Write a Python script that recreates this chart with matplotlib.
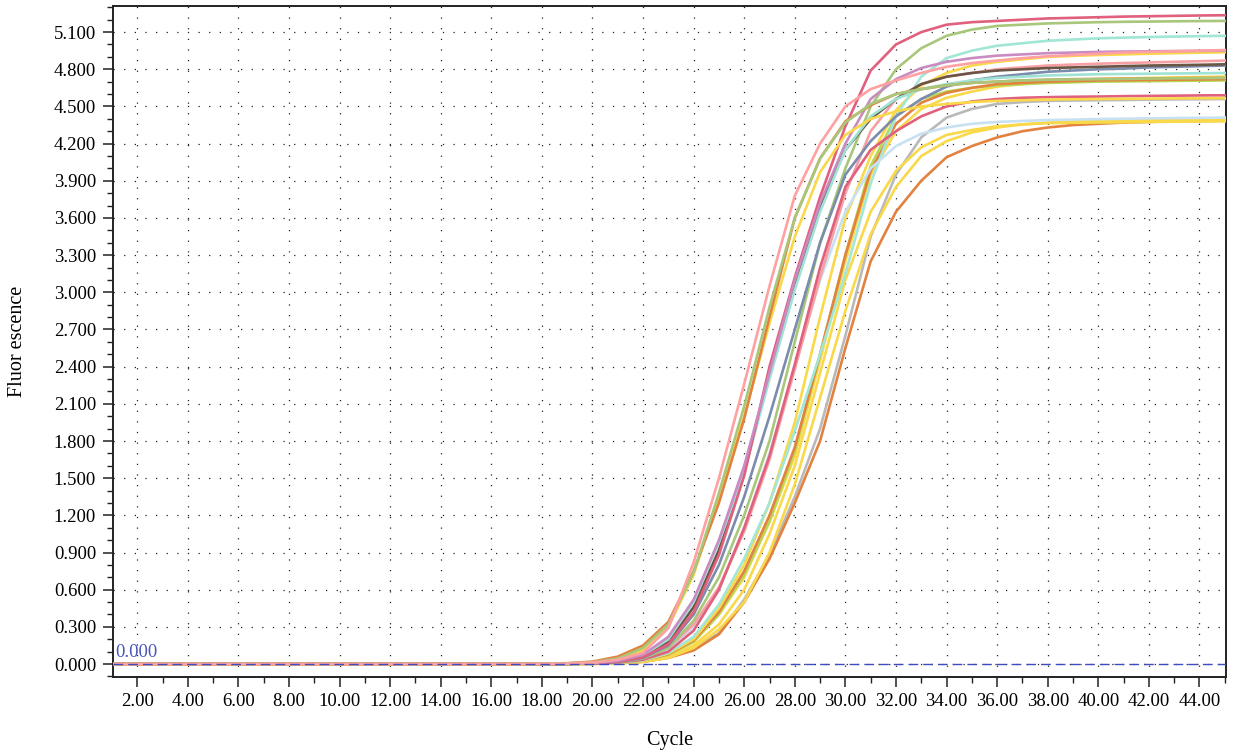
import matplotlib
matplotlib.use("Agg")
import matplotlib.pyplot as plt
from matplotlib.ticker import MultipleLocator, FormatStrFormatter

plt.rcParams['font.family'] = ['Liberation Serif', 'DejaVu Serif']

# cycles 1..45
cycles = list(range(1, 46))
# cycles 1..17: flat baseline
baseline = [0.0, 0.0, 0.0, 0.0, 0.0, 0.0, 0.0, 0.0, 0.0, 0.0, 0.0, 0.0, 0.0, 0.0, 0.0, 0.0, 0.0]

# values for cycles 18..45
pink = [0.002, 0.004, 0.012, 0.035, 0.09, 0.29, 0.82, 1.5, 2.26, 3.05, 3.78, 4.2, 4.5, 4.64, 4.71, 4.77, 4.82, 4.85, 4.87, 4.89, 4.905, 4.915, 4.925, 4.935, 4.94, 4.945, 4.95, 4.955]
olive_early = [0.002, 0.005, 0.014, 0.045, 0.13, 0.32, 0.74, 1.38, 2.08, 2.88, 3.6, 4.08, 4.37, 4.52, 4.6, 4.64, 4.67, 4.69, 4.7, 4.71, 4.715, 4.718, 4.72, 4.722, 4.725, 4.727, 4.728, 4.73]
orange_early = [0.003, 0.007, 0.02, 0.06, 0.15, 0.34, 0.75, 1.3, 1.98, 2.8, 3.6, 4.08, 4.38, 4.51, 4.6, 4.64, 4.67, 4.69, 4.7, 4.71, 4.715, 4.72, 4.722, 4.724, 4.726, 4.728, 4.729, 4.73]
yellow_c = [0.002, 0.004, 0.012, 0.04, 0.11, 0.3, 0.72, 1.35, 2.0, 2.75, 3.45, 3.97, 4.27, 4.4, 4.46, 4.5, 4.52, 4.535, 4.545, 4.55, 4.555, 4.558, 4.56, 4.562, 4.563, 4.565, 4.566, 4.567]
mauve = [0.001, 0.003, 0.008, 0.025, 0.075, 0.22, 0.52, 1.0, 1.6, 2.35, 3.1, 3.72, 4.2, 4.56, 4.72, 4.81, 4.86, 4.89, 4.91, 4.92, 4.93, 4.935, 4.94, 4.943, 4.945, 4.947, 4.948, 4.95]
crimson = [0.001, 0.002, 0.006, 0.018, 0.055, 0.16, 0.42, 0.88, 1.52, 2.4, 3.12, 3.77, 4.34, 4.79, 5.0, 5.1, 5.16, 5.18, 5.19, 5.2, 5.21, 5.215, 5.22, 5.225, 5.228, 5.231, 5.234, 5.236]
aqua_early = [0.001, 0.003, 0.008, 0.024, 0.07, 0.2, 0.5, 0.98, 1.55, 2.3, 3.02, 3.65, 4.15, 4.42, 4.56, 4.64, 4.68, 4.71, 4.73, 4.74, 4.75, 4.755, 4.76, 4.762, 4.764, 4.766, 4.768, 4.77]
brown = [0.001, 0.002, 0.006, 0.02, 0.06, 0.18, 0.46, 0.92, 1.55, 2.35, 3.07, 3.7, 4.15, 4.4, 4.56, 4.68, 4.74, 4.77, 4.79, 4.8, 4.81, 4.815, 4.82, 4.825, 4.83, 4.833, 4.836, 4.84]
slate = [0.001, 0.002, 0.006, 0.018, 0.05, 0.15, 0.4, 0.8, 1.35, 2.0, 2.7, 3.4, 3.95, 4.22, 4.42, 4.56, 4.66, 4.71, 4.74, 4.76, 4.78, 4.79, 4.8, 4.805, 4.815, 4.82, 4.825, 4.83]
olive = [0.001, 0.002, 0.005, 0.015, 0.045, 0.13, 0.35, 0.7, 1.2, 1.8, 2.6, 3.4, 4.0, 4.5, 4.8, 4.97, 5.07, 5.12, 5.15, 5.16, 5.17, 5.175, 5.18, 5.183, 5.185, 5.187, 5.189, 5.19]
crimson2 = [0.001, 0.002, 0.004, 0.012, 0.035, 0.1, 0.27, 0.6, 1.1, 1.68, 2.42, 3.2, 3.85, 4.15, 4.3, 4.42, 4.5, 4.54, 4.56, 4.57, 4.575, 4.578, 4.58, 4.583, 4.585, 4.587, 4.589, 4.59]
salmon = [0.001, 0.002, 0.005, 0.015, 0.045, 0.13, 0.32, 0.62, 1.07, 1.65, 2.38, 3.12, 3.8, 4.3, 4.56, 4.68, 4.74, 4.77, 4.8, 4.815, 4.83, 4.838, 4.845, 4.85, 4.855, 4.86, 4.865, 4.87]
light_blue = [0.001, 0.002, 0.004, 0.013, 0.04, 0.12, 0.3, 0.6, 1.1, 1.7, 2.4, 3.1, 3.65, 4.0, 4.18, 4.28, 4.33, 4.36, 4.375, 4.383, 4.39, 4.394, 4.398, 4.401, 4.404, 4.406, 4.408, 4.41]
aqua_late = [0.0, 0.001, 0.003, 0.01, 0.03, 0.09, 0.22, 0.48, 0.85, 1.3, 1.88, 2.5, 3.15, 3.88, 4.42, 4.74, 4.89, 4.95, 4.99, 5.01, 5.03, 5.04, 5.05, 5.055, 5.06, 5.064, 5.067, 5.07]
yellow_a = [0.0, 0.001, 0.003, 0.01, 0.03, 0.085, 0.2, 0.45, 0.8, 1.3, 1.95, 2.8, 3.6, 4.1, 4.47, 4.67, 4.77, 4.83, 4.86, 4.88, 4.9, 4.908, 4.915, 4.92, 4.925, 4.93, 4.934, 4.937]
orange_mid = [0.0, 0.001, 0.003, 0.01, 0.03, 0.08, 0.19, 0.42, 0.75, 1.2, 1.75, 2.5, 3.3, 3.98, 4.36, 4.53, 4.61, 4.65, 4.68, 4.69, 4.7, 4.705, 4.71, 4.712, 4.714, 4.716, 4.718, 4.72]
lime = [0.0, 0.001, 0.003, 0.009, 0.028, 0.075, 0.18, 0.4, 0.72, 1.15, 1.72, 2.5, 3.3, 4.02, 4.42, 4.56, 4.62, 4.65, 4.67, 4.68, 4.69, 4.695, 4.7, 4.702, 4.704, 4.706, 4.708, 4.71]
yellow_b = [0.0, 0.001, 0.003, 0.008, 0.025, 0.075, 0.18, 0.4, 0.7, 1.15, 1.68, 2.45, 3.25, 3.95, 4.3, 4.48, 4.57, 4.62, 4.66, 4.68, 4.7, 4.71, 4.72, 4.725, 4.73, 4.734, 4.737, 4.74]
yellow_d = [0.0, 0.001, 0.003, 0.007, 0.02, 0.06, 0.15, 0.32, 0.6, 1.05, 1.6, 2.35, 3.1, 3.65, 3.98, 4.17, 4.27, 4.31, 4.34, 4.355, 4.365, 4.368, 4.37, 4.372, 4.375, 4.377, 4.379, 4.38]
yellow_e = [0.0, 0.001, 0.002, 0.006, 0.018, 0.05, 0.13, 0.28, 0.5, 0.9, 1.45, 2.15, 2.85, 3.47, 3.85, 4.1, 4.22, 4.29, 4.33, 4.355, 4.37, 4.378, 4.385, 4.388, 4.39, 4.392, 4.394, 4.395]
gray = [0.0, 0.001, 0.002, 0.007, 0.02, 0.055, 0.12, 0.25, 0.52, 0.88, 1.35, 1.9, 2.65, 3.45, 3.95, 4.25, 4.41, 4.48, 4.52, 4.535, 4.545, 4.548, 4.55, 4.552, 4.555, 4.557, 4.558, 4.56]
orange_late = [0.0, 0.001, 0.002, 0.006, 0.018, 0.05, 0.11, 0.24, 0.5, 0.85, 1.3, 1.8, 2.55, 3.25, 3.65, 3.9, 4.09, 4.18, 4.25, 4.3, 4.33, 4.35, 4.36, 4.37, 4.375, 4.38, 4.382, 4.385]

series = [
    (gray, '#b9b9b9'),
    (orange_late, '#e3813f'),
    (yellow_e, '#f9d84a'),
    (yellow_d, '#f9d84a'),
    (yellow_b, '#f9d84a'),
    (lime, '#b5d957'),
    (orange_mid, '#e3813f'),
    (yellow_a, '#f9d84a'),
    (aqua_late, '#a2e6d6'),
    (light_blue, '#c8e1f2'),
    (salmon, '#f7a0a4'),
    (crimson2, '#e0607e'),
    (olive, '#a9c77a'),
    (slate, '#7b8cac'),
    (brown, '#6b5545'),
    (aqua_early, '#9ee3d4'),
    (crimson, '#e0607e'),
    (mauve, '#c98bc2'),
    (yellow_c, '#f9d84a'),
    (orange_early, '#e3813f'),
    (olive_early, '#a9c77a'),
    (pink, '#ffa0a2'),
]

threshold = 0.0
x_ticks = [2, 4, 6, 8, 10, 12, 14, 16, 18, 20, 22, 24, 26, 28, 30, 32, 34, 36, 38, 40, 42, 44]

W, H = 1233, 756
fig = plt.figure(figsize=(W / 100, H / 100), dpi=100)
ax = fig.add_axes([112.7 / W, 1 - 676.7 / H, (1226 - 112.7) / W, (676.7 - 5.7) / H])

for vals, col in series:
    ax.plot(cycles, baseline + vals, color=col, lw=1.9, solid_joinstyle='round', zorder=3)

ax.axhline(threshold, color='#3d4cc0', lw=1.0, linestyle=(0, (7, 3.6)), zorder=4)
ax.text(1.12, 0.025, '0.000', color='#4b55b8', fontsize=13.5, ha='left', va='bottom', zorder=5)

ax.set_xlim(1.03, 45.05)
ax.set_ylim(-0.102, 5.313)

ax.xaxis.set_major_locator(MultipleLocator(2))
ax.xaxis.set_minor_locator(MultipleLocator(1))
ax.yaxis.set_major_locator(MultipleLocator(0.3))
ax.yaxis.set_minor_locator(MultipleLocator(0.1))
ax.xaxis.set_major_formatter(FormatStrFormatter('%.2f'))
ax.yaxis.set_major_formatter(FormatStrFormatter('%.3f'))
ax.set_xticks(x_ticks)

ax.tick_params(which='major', direction='out', length=7, width=1.1, color='#222222',
               labelsize=13.5, pad=5, top=False, right=False)
ax.tick_params(which='minor', direction='out', length=4, width=1.0, color='#222222',
               top=False, right=False)

ax.grid(which='major', linestyle=(0, (1, 7.5)), color='#222222', lw=0.9)
ax.set_axisbelow(True)

for s in ax.spines.values():
    s.set_linewidth(1.4)
    s.set_color('#222222')

ax.set_xlabel('Cycle', fontsize=14.5, va='center')
ax.xaxis.set_label_coords(0.5, (676.7 - 741) / (676.7 - 5.7))
ax.set_ylabel('Fluor escence', fontsize=14.5, va='center')
ax.yaxis.set_label_coords((18 - 112.7) / (1226 - 112.7), 0.5)

fig.savefig('out.png', dpi=100)
